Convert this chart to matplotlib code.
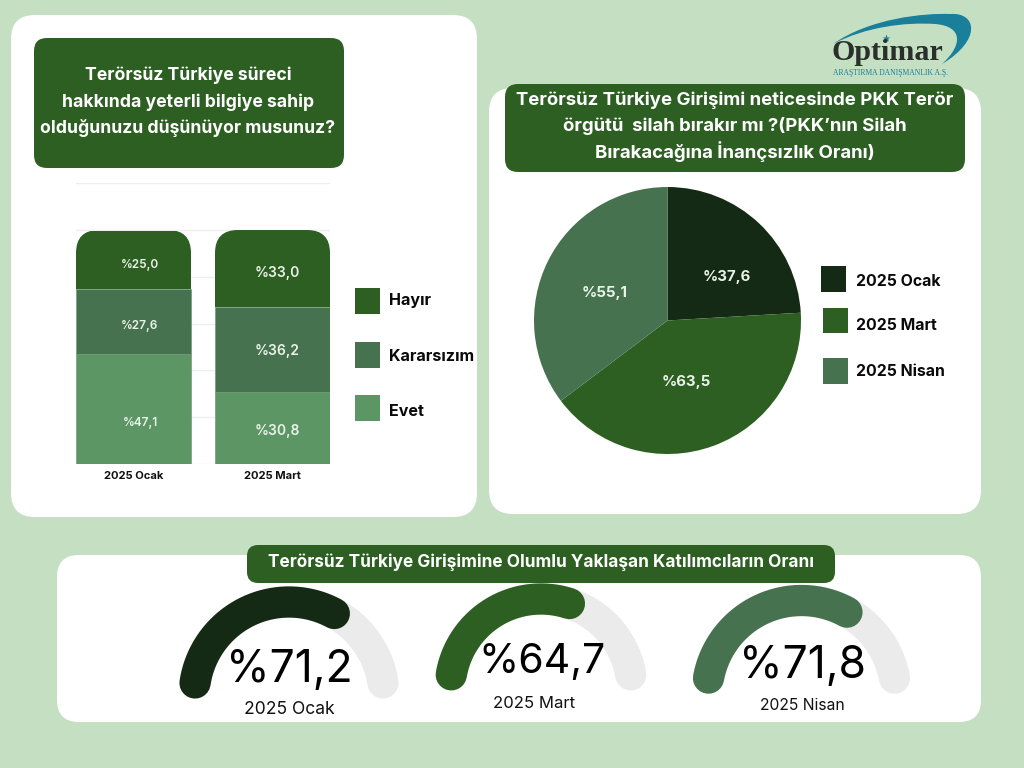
import numpy as np
import matplotlib
matplotlib.use("Agg")
import matplotlib.pyplot as plt
from matplotlib.patches import FancyBboxPatch, Rectangle, PathPatch
from matplotlib.path import Path

# ---- data ----
bar_categories = ["2025 Ocak", "2025 Mart"]
evet = [47.1, 30.8]
kararsiz = [27.6, 36.2]
hayir = [25.0, 33.0]
bar_series = ["Hayır", "Kararsızım", "Evet"]
pie_labels = ["2025 Ocak", "2025 Mart", "2025 Nisan"]
pie_values = [37.6, 63.5, 55.1]
gauge_labels = ["2025 Ocak", "2025 Mart", "2025 Nisan"]
gauge_values = [71.2, 64.7, 71.8]
title_left = "Terörsüz Türkiye süreci\nhakkında yeterli bilgiye sahip\nolduğunuzu düşünüyor musunuz?"
title_right = ["Terörsüz Türkiye Girişimi neticesinde PKK Terör",
               "örgütü  silah bırakır mı ?(PKK’nın Silah",
               "Bırakacağına İnançsızlık Oranı)"]
title_bottom = "Terörsüz Türkiye Girişimine Olumlu Yaklaşan Katılımcıların Oranı"

BG = "#C5DFC3"; DARK = "#142A14"; MID = "#2D5F22"; SOFT = "#47724F"; LIGHT = "#5B9664"
TRACK = "#EBEBEB"; TEAL = "#1A7F9A"
W, H = 1024, 768
FONT = "Inter"

fig = plt.figure(figsize=(W/100, H/100), dpi=100, facecolor=BG)

def px_axes(x0, y0, x1, y1, z):
    return fig.add_axes([x0/W, 1-y1/H, (x1-x0)/W, (y1-y0)/H], zorder=z)

def overlay(z):
    a = px_axes(0, 0, W, H, z)
    a.set_xlim(0, W); a.set_ylim(H, 0); a.axis("off"); a.patch.set_alpha(0)
    return a

back = overlay(0)
front = overlay(5)

def rbox(ax, x0, y0, x1, y1, r, c, z=1):
    p = FancyBboxPatch((x0, y0), x1-x0, y1-y0, boxstyle=f"round,pad=0,rounding_size={r}",
                       fc=c, ec="none", zorder=z)
    ax.add_patch(p)
    return p

# panels
rbox(back, 11, 15, 477, 517, 24, "white")
rbox(back, 489, 88, 981, 514, 24, "white")
rbox(back, 57, 555, 981, 722, 22, "white")
# title boxes
rbox(back, 34, 38, 344, 168, 13, MID, 2)
rbox(back, 505, 84, 965, 172, 13, MID, 2)
rbox(front, 247, 545, 835, 583, 11, MID, 2)

for y, s in zip([75, 102, 128], title_left.split("\n")):
    front.text(188, y, s, color="white", fontsize=12.7, fontweight="bold", family=FONT, ha="center", va="center")
for y, s in zip([100, 126, 152], title_right):
    front.text(735, y, s, color="white", fontsize=13.4, fontweight="bold", family=FONT, ha="center", va="center")
front.text(541, 562, title_bottom, color="white", fontsize=12.4, fontweight="bold", family=FONT,
           ha="center", va="center", zorder=3)

# ---- stacked bars ----
ax = px_axes(76, 183, 330, 464, 2)
ax.patch.set_alpha(0)
x = np.arange(len(bar_categories))
bw = 115/139
ax.set_xlim(-bw/2, 1+bw/2); ax.set_ylim(0, 120)
ax.set_yticks(np.arange(0, 121, 20))
ax.grid(axis="y", color="#EEEEEE", lw=1); ax.set_axisbelow(True)
ax.tick_params(length=0, labelleft=False)
for s in ax.spines.values():
    s.set_visible(False)
seg = dict(edgecolor="#6F9F74", linewidth=0.5)
b1 = ax.bar(x, evet, bw, color=LIGHT, **seg)
b2 = ax.bar(x, kararsiz, bw, bottom=evet, color=SOFT, **seg)
base2 = np.add(evet, kararsiz)
b3 = ax.bar(x, hayir, bw, bottom=base2, color=MID, edgecolor="none")
for rect, px0, px1 in zip(b3, [76, 215], [191, 330]):
    clip = FancyBboxPatch((px0, 230), px1-px0, 260, boxstyle="round,pad=0,rounding_size=23",
                          transform=back.transData)
    rect.set_clip_path(clip)
ax.set_xticks(x, bar_categories, fontsize=8, fontweight="bold", family=FONT, color="#111111")
ax.tick_params(axis="x", pad=5)

bar_lab = [(140, 265, hayir[0]), (140, 326, kararsiz[0]), (140, 423, evet[0]),
           (277, 273, hayir[1]), (277, 351, kararsiz[1]), (277, 431, evet[1])]
for i, (lx, ly, v) in enumerate(bar_lab):
    front.text(lx, ly, "%" + f"{v:.1f}".replace(".", ","), color="#EAF3E8",
               fontsize=8.5 if i < 3 else 10, fontweight="semibold", family=FONT, ha="center", va="center")

for (y0, y1, c, s, ty) in zip([288, 342, 395], [314, 368, 421], [MID, SOFT, LIGHT], bar_series, [300, 356.5, 412]):
    front.add_patch(Rectangle((355, y0), 25, y1-y0, fc=c, ec="none"))
    front.text(389, ty, s, color="#0A0A0A", fontsize=11.6, fontweight="bold", family=FONT, va="center")

# ---- pie ----
pax = px_axes(534, 187, 801, 454, 2)
pax.pie(pie_values, colors=[DARK, MID, SOFT], startangle=90, counterclock=False, radius=1,
        wedgeprops=dict(edgecolor="none"))
pax.set_xlim(-1, 1); pax.set_ylim(-1, 1); pax.set_aspect("equal")
for (lx, ly), v in zip([(727, 277), (686, 382), (605, 293)], pie_values):
    front.text(lx, ly, "%" + f"{v:.1f}".replace(".", ","), color="#EAF3E8", fontsize=10.8,
               fontweight="bold", family=FONT, ha="center", va="center")
for (sx, y0, y1, c, s, ty) in zip([821, 823, 823], [266, 308, 358], [292, 333, 384], [DARK, MID, SOFT], pie_labels, [281, 326, 371]):
    front.add_patch(Rectangle((sx, y0), 24.5, y1-y0, fc=c, ec="none"))
    front.text(856, ty, s, color="#0A0A0A", fontsize=11.4, fontweight="bold", family=FONT, va="center")

# ---- gauges ----
GAUGE_MAX = 105.5
geom = [(289, 697, 95, 171.5), (541, 690, 91, 170.4), (801.5, 695, 94.5, 169.7)]
num_pos = [(289, 682), (542, 673), (802, 678)]
num_size = [32, 29.5, 32]
lab_pos = [(289, 709), (534, 704), (802, 705)]
lab_size = [12.6, 12, 11.3]
for (cx, cy, r, a0), v, c, (nx, ny), ns, (lx, ly), s, fs in zip(geom, gauge_values, [DARK, MID, SOFT], num_pos, num_size, lab_pos, gauge_labels, lab_size):
    sweep = 2*a0 - 180
    t = np.radians(np.linspace(a0, 180-a0, 200))
    front.plot(cx + r*np.cos(t), cy - r*np.sin(t), color=TRACK, lw=22.5, solid_capstyle="round", zorder=1)
    t = np.radians(np.linspace(a0, a0 - sweep*v/GAUGE_MAX, 200))
    front.plot(cx + r*np.cos(t), cy - r*np.sin(t), color=c, lw=22.5, solid_capstyle="round", zorder=1.5)
    front.text(nx, ny, "%" + f"{v:.1f}".replace(".", ","), color="black", fontsize=ns, fontweight="normal",
               family=FONT, ha="center", va="baseline", zorder=3)
    front.text(lx, ly, s, color="#111111", fontsize=fs, family=FONT, ha="center", va="center", zorder=3)

# ---- logo ----
verts = [(833, 44), (870, 18), (925, 13), (950, 14), (977, 12), (982, 40), (942, 64),
         (964, 44), (962, 26), (935, 24), (905, 22), (865, 27), (833, 44)]
codes = [Path.MOVETO] + [Path.CURVE4]*12
front.add_patch(PathPatch(Path(verts, codes), fc=TEAL, ec="none"))
front.plot([886], [38], marker="*", ms=6, color=TEAL, mec="none")
front.text(887.5, 53, "Optimar", family="Liberation Serif", fontweight="bold", fontsize=21.6, color="#2A2F2C",
           ha="center", va="center")
front.text(890.5, 73, "ARAŞTIRMA DANIŞMANLIK A.Ş.", family="Liberation Serif", fontsize=5.5, color=TEAL,
           ha="center", va="center")

fig.savefig("out.png", dpi=100, facecolor=BG)
